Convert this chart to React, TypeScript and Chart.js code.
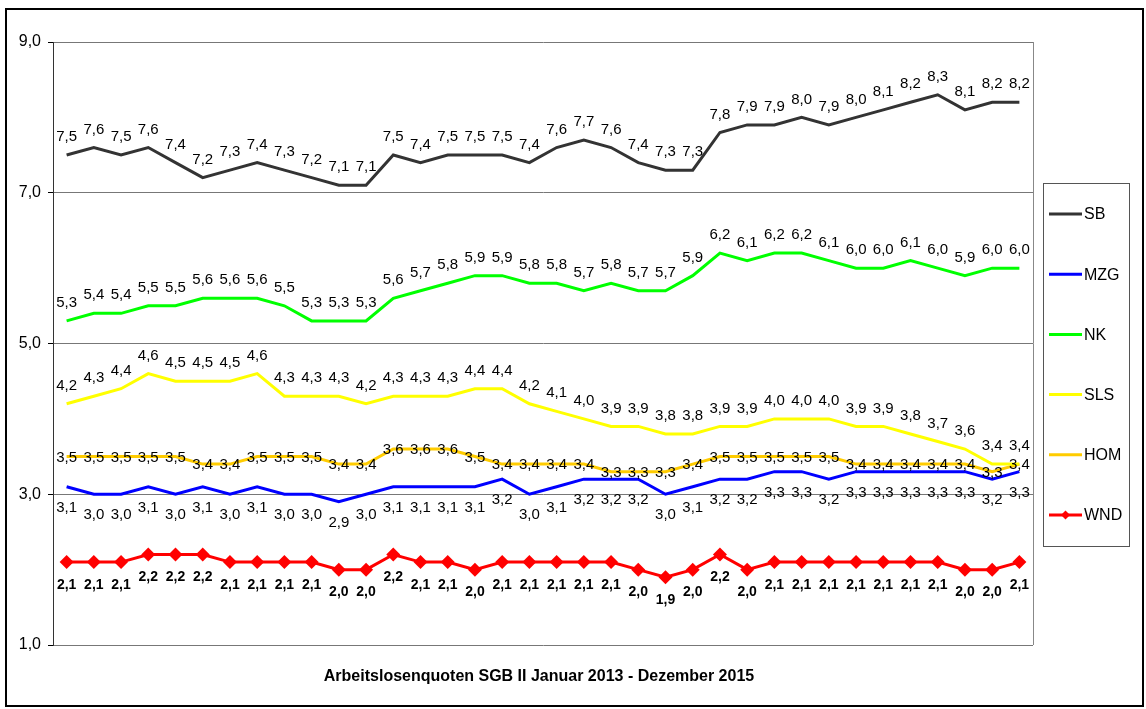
import React, { useEffect, useRef } from 'react';
import { Chart, registerables } from 'chart.js';

Chart.register(...registerables);

const months = [
  'Jan 2013', 'Feb 2013', 'Mär 2013', 'Apr 2013', 'Mai 2013', 'Jun 2013',
  'Jul 2013', 'Aug 2013', 'Sep 2013', 'Okt 2013', 'Nov 2013', 'Dez 2013',
  'Jan 2014', 'Feb 2014', 'Mär 2014', 'Apr 2014', 'Mai 2014', 'Jun 2014',
  'Jul 2014', 'Aug 2014', 'Sep 2014', 'Okt 2014', 'Nov 2014', 'Dez 2014',
  'Jan 2015', 'Feb 2015', 'Mär 2015', 'Apr 2015', 'Mai 2015', 'Jun 2015',
  'Jul 2015', 'Aug 2015', 'Sep 2015', 'Okt 2015', 'Nov 2015', 'Dez 2015',
];

const sb = [7.5, 7.6, 7.5, 7.6, 7.4, 7.2, 7.3, 7.4, 7.3, 7.2, 7.1, 7.1,
  7.5, 7.4, 7.5, 7.5, 7.5, 7.4, 7.6, 7.7, 7.6, 7.4, 7.3, 7.3,
  7.8, 7.9, 7.9, 8.0, 7.9, 8.0, 8.1, 8.2, 8.3, 8.1, 8.2, 8.2];
const mzg = [3.1, 3.0, 3.0, 3.1, 3.0, 3.1, 3.0, 3.1, 3.0, 3.0, 2.9, 3.0,
  3.1, 3.1, 3.1, 3.1, 3.2, 3.0, 3.1, 3.2, 3.2, 3.2, 3.0, 3.1,
  3.2, 3.2, 3.3, 3.3, 3.2, 3.3, 3.3, 3.3, 3.3, 3.3, 3.2, 3.3];
const nk = [5.3, 5.4, 5.4, 5.5, 5.5, 5.6, 5.6, 5.6, 5.5, 5.3, 5.3, 5.3,
  5.6, 5.7, 5.8, 5.9, 5.9, 5.8, 5.8, 5.7, 5.8, 5.7, 5.7, 5.9,
  6.2, 6.1, 6.2, 6.2, 6.1, 6.0, 6.0, 6.1, 6.0, 5.9, 6.0, 6.0];
const sls = [4.2, 4.3, 4.4, 4.6, 4.5, 4.5, 4.5, 4.6, 4.3, 4.3, 4.3, 4.2,
  4.3, 4.3, 4.3, 4.4, 4.4, 4.2, 4.1, 4.0, 3.9, 3.9, 3.8, 3.8,
  3.9, 3.9, 4.0, 4.0, 4.0, 3.9, 3.9, 3.8, 3.7, 3.6, 3.4, 3.4];
const hom = [3.5, 3.5, 3.5, 3.5, 3.5, 3.4, 3.4, 3.5, 3.5, 3.5, 3.4, 3.4,
  3.6, 3.6, 3.6, 3.5, 3.4, 3.4, 3.4, 3.4, 3.3, 3.3, 3.3, 3.4,
  3.5, 3.5, 3.5, 3.5, 3.5, 3.4, 3.4, 3.4, 3.4, 3.4, 3.3, 3.4];
const wnd = [2.1, 2.1, 2.1, 2.2, 2.2, 2.2, 2.1, 2.1, 2.1, 2.1, 2.0, 2.0,
  2.2, 2.1, 2.1, 2.0, 2.1, 2.1, 2.1, 2.1, 2.1, 2.0, 1.9, 2.0,
  2.2, 2.0, 2.1, 2.1, 2.1, 2.1, 2.1, 2.1, 2.1, 2.0, 2.0, 2.1];

const seriesNames = ['SB', 'MZG', 'NK', 'SLS', 'HOM', 'WND'];
const yMin = 1;
const yMax = 9;
const yStep = 2;
const xTitle = 'Arbeitslosenquoten SGB II Januar 2013 - Dezember 2015';

const FONT = "'Liberation Sans', Arial, sans-serif";
const fmt = (v: number) => v.toFixed(1).replace('.', ',');

const decorPlugin = {
  id: 'decor',
  beforeDraw(chart: any) {
    const ctx = chart.ctx;
    ctx.save();
    ctx.fillStyle = '#ffffff';
    ctx.fillRect(0, 0, chart.width, chart.height);
    ctx.restore();
  },
  afterDatasetsDraw(chart: any) {
    const ctx = chart.ctx;
    ctx.save();
    ctx.textAlign = 'center';
    ctx.textBaseline = 'middle';
    ctx.fillStyle = '#000000';
    chart.data.datasets.forEach((ds: any, i: number) => {
      const meta = chart.getDatasetMeta(i);
      ctx.font = ds.labelBold ? `bold 14px ${FONT}` : `15px ${FONT}`;
      const off = ds.labelPos === 'above' ? -18 : ds.labelPos === 'below' ? (ds.labelBold ? 23 : 21) : 1;
      meta.data.forEach((pt: any, j: number) => {
        ctx.fillText(fmt(ds.data[j]), pt.x, pt.y + off);
      });
    });
    ctx.restore();
  },
  afterDraw(chart: any) {
    const ctx = chart.ctx;
    const a = chart.chartArea;
    ctx.save();
    // right edge of plot area
    ctx.strokeStyle = '#888888';
    ctx.lineWidth = 1;
    ctx.beginPath();
    ctx.moveTo(a.right + 0.5, a.top);
    ctx.lineTo(a.right + 0.5, a.bottom);
    ctx.stroke();

    // title below
    ctx.fillStyle = '#000000';
    ctx.font = `bold 16px ${FONT}`;
    ctx.textAlign = 'center';
    ctx.textBaseline = 'middle';
    ctx.fillText(xTitle, (a.left + a.right) / 2 - 4, a.bottom + 32);

    // legend
    const lx = a.right + 10;
    const ly = 183;
    const lw = 86;
    const lh = 363;
    ctx.strokeStyle = '#555555';
    ctx.lineWidth = 1;
    ctx.strokeRect(lx + 0.5, ly + 0.5, lw, lh);
    ctx.font = `16px ${FONT}`;
    ctx.textAlign = 'left';
    chart.data.datasets.forEach((ds: any, i: number) => {
      const y = ly + 31 + i * 60.2;
      ctx.strokeStyle = ds.borderColor;
      ctx.lineWidth = 3;
      ctx.beginPath();
      ctx.moveTo(lx + 6, y);
      ctx.lineTo(lx + 39, y);
      ctx.stroke();
      if (ds.pointRadius > 0) {
        const cx = lx + 22.5;
        ctx.fillStyle = ds.pointBackgroundColor;
        ctx.beginPath();
        ctx.moveTo(cx - 4.5, y);
        ctx.lineTo(cx, y - 4.5);
        ctx.lineTo(cx + 4.5, y);
        ctx.lineTo(cx, y + 4.5);
        ctx.closePath();
        ctx.fill();
      }
      ctx.fillStyle = '#000000';
      ctx.fillText(ds.label, lx + 41, y + 1);
    });

    // outer frame
    ctx.strokeStyle = '#000000';
    ctx.lineWidth = 2;
    ctx.strokeRect(6, 9, 1137, 697);
    ctx.restore();
  },
};

export default function App() {
  const ref = useRef<HTMLCanvasElement | null>(null);

  useEffect(() => {
    if (!ref.current) return;
    const mk = (label: string, data: number[], color: string, labelPos: string, extra: any = {}) => ({
      label,
      data,
      borderColor: color,
      backgroundColor: color,
      borderWidth: 3,
      pointRadius: 0,
      pointHoverRadius: 0,
      tension: 0,
      labelPos,
      ...extra,
    });
    const chart = new Chart(ref.current, {
      type: 'line',
      data: {
        labels: months,
        datasets: [
          mk(seriesNames[0], sb, '#333333', 'above'),
          mk(seriesNames[1], mzg, '#0000ff', 'below'),
          mk(seriesNames[2], nk, '#00ff00', 'above'),
          mk(seriesNames[3], sls, '#ffff00', 'above'),
          mk(seriesNames[4], hom, '#ffcc00', 'center'),
          mk(seriesNames[5], wnd, '#ff0000', 'below', {
            pointRadius: 7,
            pointStyle: 'rectRot',
            pointBackgroundColor: '#ff0000',
            pointBorderColor: '#ff0000',
            pointBorderWidth: 0,
            labelBold: true,
          }),
        ] as any,
      },
      options: {
        responsive: false,
        animation: false,
        events: [],
        layout: { padding: { left: 0, top: 42, right: 113, bottom: 64 } },
        plugins: {
          legend: { display: false },
          tooltip: { enabled: false },
          title: { display: false },
        },
        scales: {
          x: {
            display: false,
            offset: true,
          },
          y: {
            min: yMin,
            max: yMax,
            afterFit: (scale: any) => {
              scale.width = 53;
            },
            ticks: {
              stepSize: yStep,
              color: '#000000',
              font: { family: FONT, size: 16 },
              padding: 7,
              callback: (v: any) => fmt(Number(v)),
            },
            grid: {
              color: '#777777',
              tickColor: '#000000',
              tickLength: 5,
              lineWidth: 1,
            },
            border: { display: true, color: '#333333', width: 1 },
          },
        },
      },
      plugins: [decorPlugin],
    } as any);
    return () => chart.destroy();
  }, []);

  return (
    <div style={{ position: 'fixed', left: 0, top: 0, width: 1146, height: 709, background: '#fff' }}>
      <canvas ref={ref} width={1146} height={709} style={{ display: 'block' }} />
    </div>
  );
}
